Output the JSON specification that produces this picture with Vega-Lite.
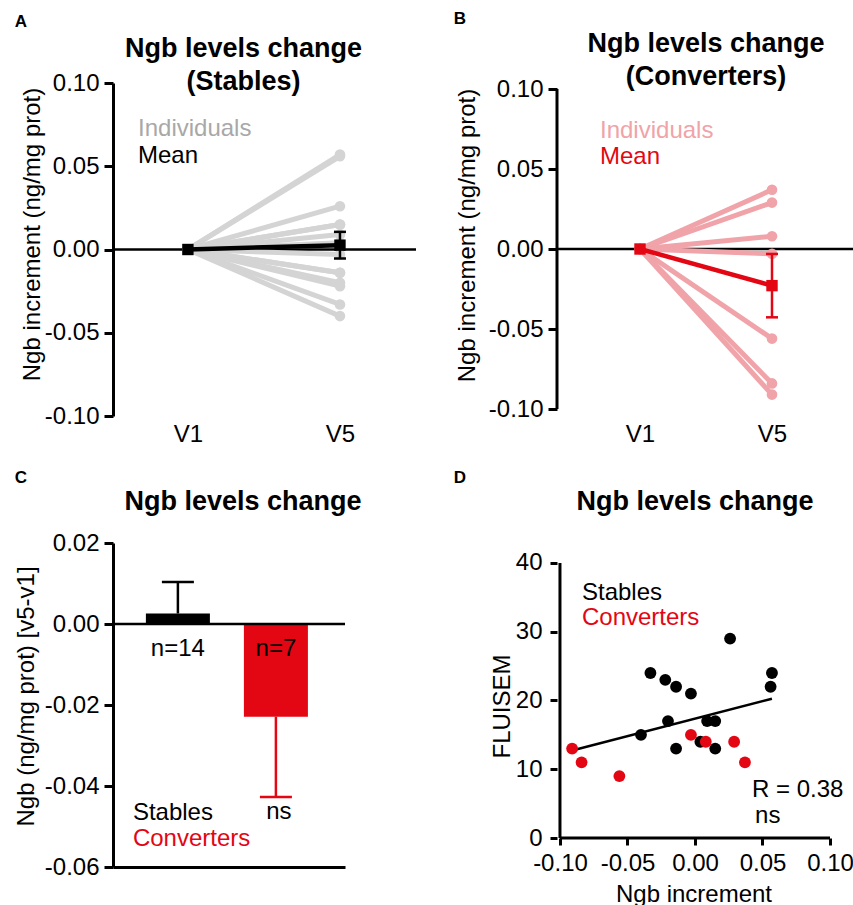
{
  "$schema": "https://vega.github.io/schema/vega-lite/v6.json",
  "background": "white",
  "padding": {"left": 14, "top": 9, "right": 0, "bottom": 0},
  "columns": 2,
  "spacing": {"row": 22, "column": 35},
  "config": {
    "view": {"stroke": null},
    "font": "Liberation Sans",
    "axis": {"grid": false, "domainColor": "#000000", "domainWidth": 3, "tickColor": "#000000", "tickWidth": 3, "tickSize": 9, "labelColor": "#000000", "labelFont": "Liberation Sans", "labelFontSize": 24, "labelPadding": 5, "titleColor": "#000000", "titleFont": "Liberation Sans", "titleFontSize": 24, "titleFontWeight": "normal", "labelOverlap": false, "labelFlush": false},
    "title": {"font": "Liberation Sans", "fontSize": 27, "fontWeight": "bold", "color": "#000000", "anchor": "middle", "frame": "group", "lineHeight": 33},
    "text": {"font": "Liberation Sans", "fontSize": 24, "color": "#000000"}
  },
  "datasets": {
    "stablesLong": [
      {"id": "S1", "visit": 1, "ngb": 0}, {"id": "S1", "visit": 5, "ngb": 0.026},
      {"id": "S2", "visit": 1, "ngb": 0}, {"id": "S2", "visit": 5, "ngb": -0.033},
      {"id": "S3", "visit": 1, "ngb": 0}, {"id": "S3", "visit": 5, "ngb": -0.022},
      {"id": "S4", "visit": 1, "ngb": 0}, {"id": "S4", "visit": 5, "ngb": -0.014},
      {"id": "S5", "visit": 1, "ngb": 0}, {"id": "S5", "visit": 5, "ngb": -0.003},
      {"id": "S6", "visit": 1, "ngb": 0}, {"id": "S6", "visit": 5, "ngb": 0.057},
      {"id": "S7", "visit": 1, "ngb": 0}, {"id": "S7", "visit": 5, "ngb": 0.056},
      {"id": "S8", "visit": 1, "ngb": 0}, {"id": "S8", "visit": 5, "ngb": -0.02},
      {"id": "S9", "visit": 1, "ngb": 0}, {"id": "S9", "visit": 5, "ngb": 0.009},
      {"id": "S10", "visit": 1, "ngb": 0}, {"id": "S10", "visit": 5, "ngb": 0.015},
      {"id": "S11", "visit": 1, "ngb": 0}, {"id": "S11", "visit": 5, "ngb": -0.04},
      {"id": "S12", "visit": 1, "ngb": 0}, {"id": "S12", "visit": 5, "ngb": -0.014},
      {"id": "S13", "visit": 1, "ngb": 0}, {"id": "S13", "visit": 5, "ngb": 0.004},
      {"id": "S14", "visit": 1, "ngb": 0}, {"id": "S14", "visit": 5, "ngb": 0.015}
    ],
    "convertersLong": [
      {"id": "C1", "visit": 1, "ngb": 0}, {"id": "C1", "visit": 5, "ngb": 0.037},
      {"id": "C2", "visit": 1, "ngb": 0}, {"id": "C2", "visit": 5, "ngb": 0.029},
      {"id": "C3", "visit": 1, "ngb": 0}, {"id": "C3", "visit": 5, "ngb": 0.008},
      {"id": "C4", "visit": 1, "ngb": 0}, {"id": "C4", "visit": 5, "ngb": -0.003},
      {"id": "C5", "visit": 1, "ngb": 0}, {"id": "C5", "visit": 5, "ngb": -0.056},
      {"id": "C6", "visit": 1, "ngb": 0}, {"id": "C6", "visit": 5, "ngb": -0.084},
      {"id": "C7", "visit": 1, "ngb": 0}, {"id": "C7", "visit": 5, "ngb": -0.091}
    ],
    "meanA": [{"visit": 1, "mean": 0}, {"visit": 5, "mean": 0.0026}],
    "errA": [{"visit": 5, "lo": -0.0054, "hi": 0.0106}],
    "meanB": [{"visit": 1, "mean": 0}, {"visit": 5, "mean": -0.0229}],
    "errB": [{"visit": 5, "lo": -0.0427, "hi": -0.0031}],
    "barsC": [
      {"group": "Stables", "mean": 0.0026, "errEnd": 0.0104, "n": "n=14"},
      {"group": "Converters", "mean": -0.0229, "errEnd": -0.0427, "n": "n=7"}
    ],
    "scatterD": [
      {"group": "Stables", "ngb": 0.026, "fluisem": 29},
      {"group": "Stables", "ngb": -0.033, "fluisem": 24},
      {"group": "Stables", "ngb": -0.022, "fluisem": 23},
      {"group": "Stables", "ngb": -0.014, "fluisem": 22},
      {"group": "Stables", "ngb": -0.003, "fluisem": 21},
      {"group": "Stables", "ngb": 0.057, "fluisem": 24},
      {"group": "Stables", "ngb": 0.056, "fluisem": 22},
      {"group": "Stables", "ngb": -0.02, "fluisem": 17},
      {"group": "Stables", "ngb": 0.009, "fluisem": 17},
      {"group": "Stables", "ngb": 0.015, "fluisem": 17},
      {"group": "Stables", "ngb": -0.04, "fluisem": 15},
      {"group": "Stables", "ngb": -0.014, "fluisem": 13},
      {"group": "Stables", "ngb": 0.004, "fluisem": 14},
      {"group": "Stables", "ngb": 0.015, "fluisem": 13},
      {"group": "Converters", "ngb": -0.091, "fluisem": 13},
      {"group": "Converters", "ngb": -0.084, "fluisem": 11},
      {"group": "Converters", "ngb": -0.056, "fluisem": 9},
      {"group": "Converters", "ngb": -0.003, "fluisem": 15},
      {"group": "Converters", "ngb": 0.008, "fluisem": 14},
      {"group": "Converters", "ngb": 0.029, "fluisem": 14},
      {"group": "Converters", "ngb": 0.037, "fluisem": 11}
    ],
    "fitD": [{"ngb": -0.091, "fluisem": 12.73}, {"ngb": 0.057, "fluisem": 20.25}]
  },
  "concat": [
    {
      "width": 303, "height": 333,
      "title": {"text": ["Ngb levels change", "(Stables)"], "dx": -21, "offset": -83},
      "layer": [
        {"data": {"values": [{}]}, "mark": {"type": "rule", "color": "#000000", "strokeWidth": 2.5},
         "encoding": {"y": {"datum": 0, "type": "quantitative", "scale": {"domain": [-0.1, 0.1], "nice": false, "zero": false},
           "axis": {"values": [-0.1, -0.05, 0, 0.05, 0.1], "labelExpr": "(datum.value < 0 ? '-' : '') + format(abs(datum.value), '.2f')", "title": "Ngb increment (ng/mg prot)", "titlePadding": 0, "titleY": 151}}}},
        {"data": {"name": "stablesLong"}, "mark": {"type": "line", "color": "#d4d4d4", "strokeWidth": 5},
         "encoding": {"x": {"field": "visit", "type": "quantitative", "scale": {"domain": [-0.97, 7.0], "nice": false, "zero": false},
           "axis": {"values": [1, 5], "labelExpr": "'V' + datum.value", "domain": false, "ticks": false, "tickSize": 0, "labelPadding": 6, "title": null, "labelFlush": false}},
           "y": {"field": "ngb", "type": "quantitative"}, "detail": {"field": "id"}}},
        {"data": {"name": "stablesLong"}, "mark": {"type": "circle", "color": "#d4d4d4", "size": 113, "opacity": 1},
         "encoding": {"x": {"field": "visit", "type": "quantitative"}, "y": {"field": "ngb", "type": "quantitative"}}},
        {"data": {"name": "meanA"}, "mark": {"type": "line", "color": "#000000", "strokeWidth": 4.5},
         "encoding": {"x": {"field": "visit", "type": "quantitative"}, "y": {"field": "mean", "type": "quantitative"}}},
        {"data": {"name": "meanA"}, "mark": {"type": "square", "color": "#000000", "size": 130, "opacity": 1, "filled": true},
         "encoding": {"x": {"field": "visit", "type": "quantitative"}, "y": {"field": "mean", "type": "quantitative"}}},
        {"data": {"name": "errA"}, "mark": {"type": "rule", "color": "#000000", "strokeWidth": 2.5},
         "encoding": {"x": {"field": "visit", "type": "quantitative"}, "y": {"field": "lo", "type": "quantitative"}, "y2": {"field": "hi"}}},
        {"data": {"name": "errA"}, "mark": {"type": "tick", "orient": "horizontal", "color": "#000000", "size": 12, "thickness": 2.5, "opacity": 1},
         "encoding": {"x": {"field": "visit", "type": "quantitative"}, "y": {"field": "lo", "type": "quantitative"}}},
        {"data": {"name": "errA"}, "mark": {"type": "tick", "orient": "horizontal", "color": "#000000", "size": 12, "thickness": 2.5, "opacity": 1},
         "encoding": {"x": {"field": "visit", "type": "quantitative"}, "y": {"field": "hi", "type": "quantitative"}}},
        {"data": {"values": [{"label": "A"}]}, "mark": {"type": "text", "fontSize": 17, "fontWeight": "bold", "align": "center", "baseline": "middle"},
         "encoding": {"x": {"datum": -3.39, "type": "quantitative"}, "y": {"datum": 0.1366, "type": "quantitative"}, "text": {"field": "label"}}},
        {"data": {"values": [{"label": "Individuals"}]}, "mark": {"type": "text", "align": "left", "baseline": "middle", "color": "#a8a8a8"},
         "encoding": {"x": {"datum": -0.312, "type": "quantitative"}, "y": {"datum": 0.0724, "type": "quantitative"}, "text": {"field": "label"}}},
        {"data": {"values": [{"label": "Mean"}]}, "mark": {"type": "text", "align": "left", "baseline": "middle", "color": "#000000"},
         "encoding": {"x": {"datum": -0.312, "type": "quantitative"}, "y": {"datum": 0.0562, "type": "quantitative"}, "text": {"field": "label"}}}
      ]
    },
    {
      "width": 298, "height": 326,
      "title": {"text": ["Ngb levels change", "(Converters)"], "dx": 0, "offset": -81},
      "layer": [
        {"data": {"values": [{}]}, "mark": {"type": "rule", "color": "#000000", "strokeWidth": 2.5},
         "encoding": {"y": {"datum": 0, "type": "quantitative", "scale": {"domain": [-0.1, 0.10375], "nice": false, "zero": false},
           "axis": {"values": [-0.1, -0.05, 0, 0.05, 0.1], "labelExpr": "(datum.value < 0 ? '-' : '') + format(abs(datum.value), '.2f')", "domain": false, "title": "Ngb increment (ng/mg prot)", "titlePadding": 9, "titleY": 152}}}},
        {"data": {"values": [{}]}, "mark": {"type": "rule", "color": "#000000", "strokeWidth": 3},
         "encoding": {"x": {"datum": -1.515, "type": "quantitative"}, "y": {"datum": -0.1, "type": "quantitative"}, "y2": {"datum": 0.1}}},
        {"data": {"name": "convertersLong"}, "mark": {"type": "line", "color": "#f0a3a8", "strokeWidth": 5},
         "encoding": {"x": {"field": "visit", "type": "quantitative", "scale": {"domain": [-1.515, 7.515], "nice": false, "zero": false},
           "axis": {"values": [1, 5], "labelExpr": "'V' + datum.value", "domain": false, "ticks": false, "tickSize": 0, "labelPadding": 13, "title": null, "labelFlush": false}},
           "y": {"field": "ngb", "type": "quantitative"}, "detail": {"field": "id"}}},
        {"data": {"name": "convertersLong"}, "mark": {"type": "circle", "color": "#f0a3a8", "size": 113, "opacity": 1},
         "encoding": {"x": {"field": "visit", "type": "quantitative"}, "y": {"field": "ngb", "type": "quantitative"}}},
        {"data": {"name": "meanB"}, "mark": {"type": "line", "color": "#e30613", "strokeWidth": 4.5},
         "encoding": {"x": {"field": "visit", "type": "quantitative"}, "y": {"field": "mean", "type": "quantitative"}}},
        {"data": {"name": "meanB"}, "mark": {"type": "square", "color": "#e30613", "size": 130, "opacity": 1, "filled": true},
         "encoding": {"x": {"field": "visit", "type": "quantitative"}, "y": {"field": "mean", "type": "quantitative"}}},
        {"data": {"name": "errB"}, "mark": {"type": "rule", "color": "#e30613", "strokeWidth": 2.5},
         "encoding": {"x": {"field": "visit", "type": "quantitative"}, "y": {"field": "lo", "type": "quantitative"}, "y2": {"field": "hi"}}},
        {"data": {"name": "errB"}, "mark": {"type": "tick", "orient": "horizontal", "color": "#e30613", "size": 12, "thickness": 2.5, "opacity": 1},
         "encoding": {"x": {"field": "visit", "type": "quantitative"}, "y": {"field": "lo", "type": "quantitative"}}},
        {"data": {"name": "errB"}, "mark": {"type": "tick", "orient": "horizontal", "color": "#e30613", "size": 12, "thickness": 2.5, "opacity": 1},
         "encoding": {"x": {"field": "visit", "type": "quantitative"}, "y": {"field": "hi", "type": "quantitative"}}},
        {"data": {"values": [{"label": "B"}]}, "mark": {"type": "text", "fontSize": 17, "fontWeight": "bold", "align": "center", "baseline": "middle"},
         "encoding": {"x": {"datum": -4.455, "type": "quantitative"}, "y": {"datum": 0.1438, "type": "quantitative"}, "text": {"field": "label"}}},
        {"data": {"values": [{"label": "Individuals"}]}, "mark": {"type": "text", "align": "left", "baseline": "middle", "color": "#f0a3a8"},
         "encoding": {"x": {"datum": -0.212, "type": "quantitative"}, "y": {"datum": 0.0738, "type": "quantitative"}, "text": {"field": "label"}}},
        {"data": {"values": [{"label": "Mean"}]}, "mark": {"type": "text", "align": "left", "baseline": "middle", "color": "#e30613"},
         "encoding": {"x": {"datum": -0.212, "type": "quantitative"}, "y": {"datum": 0.0575, "type": "quantitative"}, "text": {"field": "label"}}}
      ]
    },
    {
      "width": 232, "height": 324,
      "title": {"text": "Ngb levels change", "dx": 14, "offset": -47},
      "layer": [
        {"data": {"name": "barsC"}, "mark": {"type": "bar"},
         "encoding": {
           "x": {"field": "group", "type": "nominal", "sort": ["Stables", "Converters"], "scale": {"domain": ["Stables", "Converters"], "paddingInner": 0.347, "paddingOuter": 0.357, "align": 0.47},
             "axis": {"labels": false, "ticks": false, "title": null, "domain": true}},
           "y": {"field": "mean", "type": "quantitative", "scale": {"domain": [-0.06, 0.02], "nice": false, "zero": false},
             "axis": {"values": [-0.06, -0.04, -0.02, 0, 0.02], "labelExpr": "(datum.value < 0 ? '-' : '') + format(abs(datum.value), '.2f')", "title": "Ngb (ng/mg prot) [v5-v1]", "titlePadding": 6, "titleY": 153}},
           "y2": {"datum": 0},
           "color": {"field": "group", "type": "nominal", "scale": {"domain": ["Stables", "Converters"], "range": ["#000000", "#e30613"]}, "legend": null}}},
        {"data": {"name": "barsC"}, "mark": {"type": "rule", "strokeWidth": 2.5},
         "encoding": {"x": {"field": "group", "type": "nominal"}, "y": {"field": "mean", "type": "quantitative"}, "y2": {"field": "errEnd"},
           "color": {"field": "group", "type": "nominal", "legend": null}}},
        {"data": {"name": "barsC"}, "mark": {"type": "tick", "orient": "horizontal", "size": 32, "thickness": 2.5, "opacity": 1},
         "encoding": {"x": {"field": "group", "type": "nominal"}, "y": {"field": "errEnd", "type": "quantitative"},
           "color": {"field": "group", "type": "nominal", "legend": null}}},
        {"data": {"values": [{}]}, "mark": {"type": "rule", "color": "#000000", "strokeWidth": 2.5},
         "encoding": {"y": {"datum": 0, "type": "quantitative"}}},
        {"data": {"name": "barsC"}, "mark": {"type": "text", "align": "center", "baseline": "middle", "color": "#000000"},
         "encoding": {"x": {"field": "group", "type": "nominal"}, "y": {"datum": -0.0062, "type": "quantitative"}, "text": {"field": "n"}}},
        {"data": {"values": [{"label": "ns"}]}, "mark": {"type": "text", "align": "center", "baseline": "middle", "dx": 3},
         "encoding": {"x": {"datum": "Converters", "type": "nominal"}, "y": {"datum": -0.0464, "type": "quantitative"}, "text": {"field": "label"}}},
        {"data": {"values": [{"label": "Stables"}]}, "mark": {"type": "text", "align": "left", "baseline": "middle", "dx": -45, "color": "#000000"},
         "encoding": {"x": {"datum": "Stables", "type": "nominal"}, "y": {"datum": -0.0467, "type": "quantitative"}, "text": {"field": "label"}}},
        {"data": {"values": [{"label": "Converters"}]}, "mark": {"type": "text", "align": "left", "baseline": "middle", "dx": -45, "color": "#e30613"},
         "encoding": {"x": {"datum": "Stables", "type": "nominal"}, "y": {"datum": -0.0531, "type": "quantitative"}, "text": {"field": "label"}}},
        {"data": {"values": [{"label": "C"}]}, "mark": {"type": "text", "fontSize": 17, "fontWeight": "bold", "align": "center", "baseline": "middle", "dx": -157},
         "encoding": {"x": {"datum": "Stables", "type": "nominal"}, "y": {"datum": 0.036, "type": "quantitative"}, "text": {"field": "label"}}}
      ]
    },
    {
      "width": 273, "height": 295,
      "title": {"text": "Ngb levels change", "dx": 1.5, "offset": -47},
      "layer": [
        {"data": {"values": [{}]}, "mark": {"type": "rule", "color": "#000000", "strokeWidth": 3},
         "encoding": {"x": {"datum": -0.1, "type": "quantitative", "scale": {"domain": [-0.1022, 0.1], "nice": false, "zero": false},
           "axis": {"values": [-0.1, -0.05, 0, 0.05, 0.1], "labelExpr": "(datum.value < 0 ? '-' : '') + format(abs(datum.value), '.2f')", "domain": false, "tickSize": 7, "labelPadding": 6, "title": "Ngb increment", "titlePadding": 7, "labelFlush": false}},
           "y": {"datum": 0, "type": "quantitative", "scale": {"domain": [0, 42.9], "nice": false, "zero": false},
           "axis": {"values": [0, 10, 20, 30, 40], "format": "d", "domain": false, "tickSize": 7, "labelPadding": 8, "title": "FLUISEM", "titlePadding": 1, "titleY": 163}},
           "y2": {"datum": 40}}},
        {"data": {"values": [{}]}, "mark": {"type": "rule", "color": "#000000", "strokeWidth": 3},
         "encoding": {"x": {"datum": -0.1, "type": "quantitative"}, "x2": {"datum": 0.1}, "y": {"datum": 0, "type": "quantitative"}}},
        {"data": {"name": "fitD"}, "mark": {"type": "line", "color": "#000000", "strokeWidth": 2.5},
         "encoding": {"x": {"field": "ngb", "type": "quantitative"}, "y": {"field": "fluisem", "type": "quantitative"}}},
        {"data": {"name": "scatterD"}, "mark": {"type": "circle", "size": 140, "opacity": 1},
         "encoding": {"x": {"field": "ngb", "type": "quantitative"}, "y": {"field": "fluisem", "type": "quantitative"},
           "color": {"field": "group", "type": "nominal", "scale": {"domain": ["Stables", "Converters"], "range": ["#000000", "#e30613"]}, "legend": null}}},
        {"data": {"values": [{"label": "Stables"}]}, "mark": {"type": "text", "align": "left", "baseline": "middle", "color": "#000000"},
         "encoding": {"x": {"datum": -0.0837, "type": "quantitative"}, "y": {"datum": 35.6, "type": "quantitative"}, "text": {"field": "label"}}},
        {"data": {"values": [{"label": "Converters"}]}, "mark": {"type": "text", "align": "left", "baseline": "middle", "color": "#e30613"},
         "encoding": {"x": {"datum": -0.0837, "type": "quantitative"}, "y": {"datum": 32.0, "type": "quantitative"}, "text": {"field": "label"}}},
        {"data": {"values": [{"label": "R = 0.38"}]}, "mark": {"type": "text", "align": "left", "baseline": "middle", "color": "#000000"},
         "encoding": {"x": {"datum": 0.0422, "type": "quantitative"}, "y": {"datum": 7.0, "type": "quantitative"}, "text": {"field": "label"}}},
        {"data": {"values": [{"label": "ns"}]}, "mark": {"type": "text", "align": "left", "baseline": "middle", "color": "#000000"},
         "encoding": {"x": {"datum": 0.0445, "type": "quantitative"}, "y": {"datum": 3.2, "type": "quantitative"}, "text": {"field": "label"}}},
        {"data": {"values": [{"label": "D"}]}, "mark": {"type": "text", "fontSize": 17, "fontWeight": "bold", "align": "center", "baseline": "middle"},
         "encoding": {"x": {"datum": -0.1741, "type": "quantitative"}, "y": {"datum": 52.4, "type": "quantitative"}, "text": {"field": "label"}}}
      ]
    }
  ]
}
